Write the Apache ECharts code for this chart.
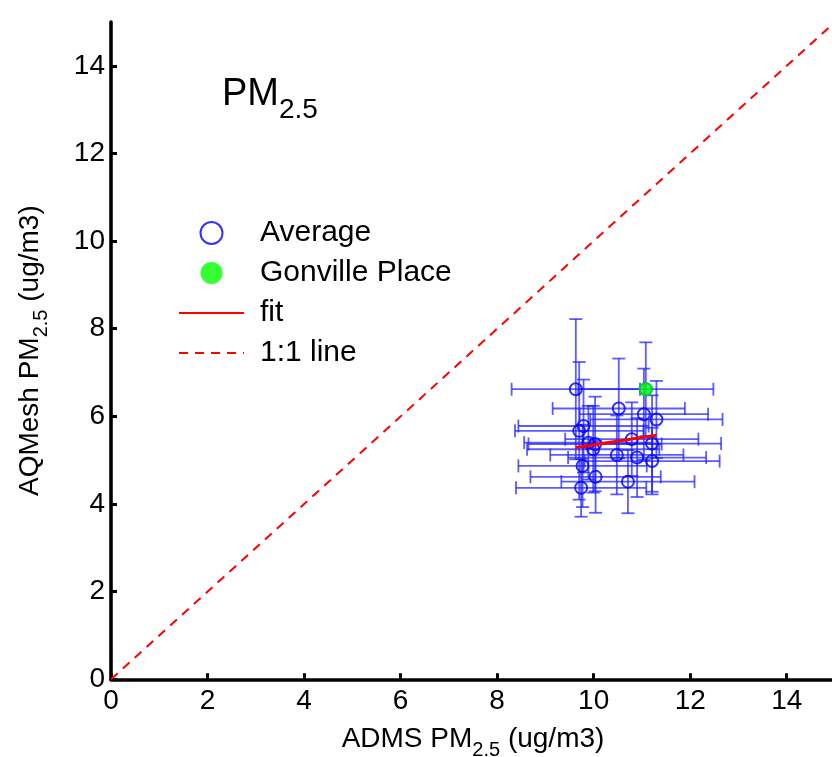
<!DOCTYPE html>
<html>
<head>
<meta charset="utf-8">
<script src="https://cdn.jsdelivr.net/npm/echarts@6/dist/echarts.min.js"></script>
<style>
  html, body { margin: 0; padding: 0; background: #ffffff; }
  #chart { width: 832px; height: 757px; }
</style>
</head>
<body>
<div id="chart"></div>
<script>
// Per-site averages, ADMS modelled vs AQMesh measured PM2.5 (ug/m3)
const admsMean   = [9.63, 10.52, 11.04, 11.30, 9.79, 9.70, 10.79, 11.21, 9.89, 10.03, 9.99, 10.48, 10.90, 11.21, 9.77, 10.04, 10.71, 9.74, 11.08];
const aqmeshMean = [6.62, 6.18, 6.05, 5.93, 5.78, 5.67, 5.48, 5.38, 5.40, 5.37, 5.25, 5.12, 5.06, 4.98, 4.87, 4.62, 4.51, 4.37, 6.62];
// Half-widths of the error bars
const admsErr    = [1.33, 1.37, 1.33, 1.37, 1.35, 1.33, 1.38, 1.43, 1.33, 1.38, 1.37, 1.38, 1.43, 1.40, 1.33, 1.35, 1.38, 1.35, 1.40];
const aqmeshErr  = [1.60, 1.14, 1.04, 0.88, 1.06, 1.57, 0.84, 1.10, 0.84, 1.08, 0.99, 0.90, 0.90, 0.76, 0.94, 0.82, 0.72, 0.66, 1.07];

// Gonville Place site
const gonvilleAdms   = [11.08];
const gonvilleAqmesh = [6.62];

// Linear fit through the averages (end points)
const fitAdms   = [9.63, 11.30];
const fitAqmesh = [5.29, 5.57];

// 1:1 reference line
const oneToOne = [0, 15];

// Axis ticks
const tickValues = [0, 2, 4, 6, 8, 10, 12, 14];

const FONT = 'Liberation Sans';
const BLUE = '#0000ff';
const RED = '#ff0000';

const averages = admsMean.map((x, i) => [x, aqmeshMean[i]]);
const errorRows = admsMean.map((x, i) => [x, aqmeshMean[i], admsErr[i], aqmeshErr[i]]);
const gonville = gonvilleAdms.map((x, i) => [x, gonvilleAqmesh[i]]);
const fitLine = fitAdms.map((x, i) => [x, fitAqmesh[i]]);
const refLine = oneToOne.map(v => [v, v]);

// Horizontal and vertical error bars with end caps
function renderErrorBars(params, api) {
  const x = api.value(0), y = api.value(1), ex = api.value(2), ey = api.value(3);
  const l = api.coord([x - ex, y]);
  const r = api.coord([x + ex, y]);
  const t = api.coord([x, y + ey]);
  const b = api.coord([x, y - ey]);
  const cap = 6.5;
  const style = { stroke: 'rgba(30,30,255,0.72)', lineWidth: 1.8 };
  const seg = (x1, y1, x2, y2) => ({ type: 'line', shape: { x1, y1, x2, y2 }, style });
  return {
    type: 'group',
    children: [
      seg(l[0], l[1], r[0], r[1]),
      seg(l[0], l[1] - cap, l[0], l[1] + cap),
      seg(r[0], r[1] - cap, r[0], r[1] + cap),
      seg(t[0], t[1], b[0], b[1]),
      seg(t[0] - cap, t[1], t[0] + cap, t[1]),
      seg(b[0] - cap, b[1], b[0] + cap, b[1])
    ]
  };
}

const axisCommon = {
  type: 'value',
  min: 0,
  max: 15,
  splitLine: { show: false },
  axisLine: { show: true, lineStyle: { color: '#000', width: 3.6 } },
  axisTick: { show: true, inside: true, length: 6, customValues: tickValues, lineStyle: { color: '#000', width: 3 } },
  axisLabel: { customValues: tickValues, color: '#000', fontFamily: FONT, fontSize: 28 },
  nameLocation: 'middle'
};

// Rich styles: plain text and a lowered subscript
const nameRich = {
  n: { fontFamily: FONT, fontSize: 28, color: '#000', verticalAlign: 'top' },
  s: { fontFamily: FONT, fontSize: 20, color: '#000', verticalAlign: 'top', padding: [15, 0, 0, 0] }
};

const chart = echarts.init(document.getElementById('chart'), null, { renderer: 'canvas' });

chart.setOption({
  animation: false,
  backgroundColor: '#ffffff',
  grid: { left: 111, top: 22, width: 724, height: 657.3, containLabel: false, outerBoundsMode: 'none' },
  title: {
    text: '{m|PM}{s|2.5}',
    left: 222,
    top: 76,
    padding: 0,
    textStyle: {
      fontWeight: 'normal',
      rich: {
        m: { fontFamily: FONT, fontSize: 38, fontWeight: 'normal', color: '#000', verticalAlign: 'top' },
        s: { fontFamily: FONT, fontSize: 28, fontWeight: 'normal', color: '#000', verticalAlign: 'top', padding: [20, 0, 0, 0] }
      }
    }
  },
  legend: {
    orient: 'vertical',
    left: 178,
    top: 218,
    padding: 0,
    itemWidth: 65,
    itemHeight: 22,
    itemGap: 10,
    data: [
      { name: 'Average' },
      { name: 'Gonville Place' },
      { name: 'fit', itemStyle: { opacity: 0 } },
      { name: '1:1 line', itemStyle: { opacity: 0 } }
    ],
    formatter: name => '{t|' + name + '}',
    textStyle: {
      rich: { t: { fontFamily: FONT, fontSize: 30, color: '#000', lineHeight: 30, padding: [0, 0, 0, 11] } }
    }
  },
  xAxis: Object.assign({}, axisCommon, {
    name: '{n|ADMS PM}{s|2.5}{n| (ug/m3)}',
    nameGap: 46,
    nameTextStyle: { rich: nameRich },
    axisLabel: Object.assign({}, axisCommon.axisLabel, { margin: 8 })
  }),
  yAxis: Object.assign({}, axisCommon, {
    name: '{n|AQMesh PM}{s|2.5}{n| (ug/m3)}',
    nameGap: 60,
    nameTextStyle: { rich: nameRich },
    axisLabel: Object.assign({}, axisCommon.axisLabel, { margin: 6 })
  }),
  series: [
    {
      name: 'error bars',
      type: 'custom',
      renderItem: renderErrorBars,
      encode: { x: 0, y: 1 },
      data: errorRows,
      z: 2,
      silent: true
    },
    {
      name: 'Average',
      type: 'scatter',
      data: averages,
      symbol: 'circle',
      symbolSize: 12,
      itemStyle: { color: 'rgba(0,0,0,0)', borderColor: BLUE, borderWidth: 2 },
      z: 3
    },
    {
      name: 'Gonville Place',
      type: 'scatter',
      data: gonville,
      symbol: 'circle',
      symbolSize: 14,
      itemStyle: { color: '#00ff00' },
      z: 4
    },
    {
      name: 'fit',
      type: 'line',
      data: fitLine,
      symbol: 'none',
      lineStyle: { color: RED, width: 3 },
      itemStyle: { color: RED },
      z: 5
    },
    {
      name: '1:1 line',
      type: 'line',
      data: refLine,
      symbol: 'none',
      lineStyle: { color: RED, width: 2, type: [9, 7] },
      itemStyle: { color: RED },
      z: 1
    }
  ]
});
</script>
</body>
</html>
